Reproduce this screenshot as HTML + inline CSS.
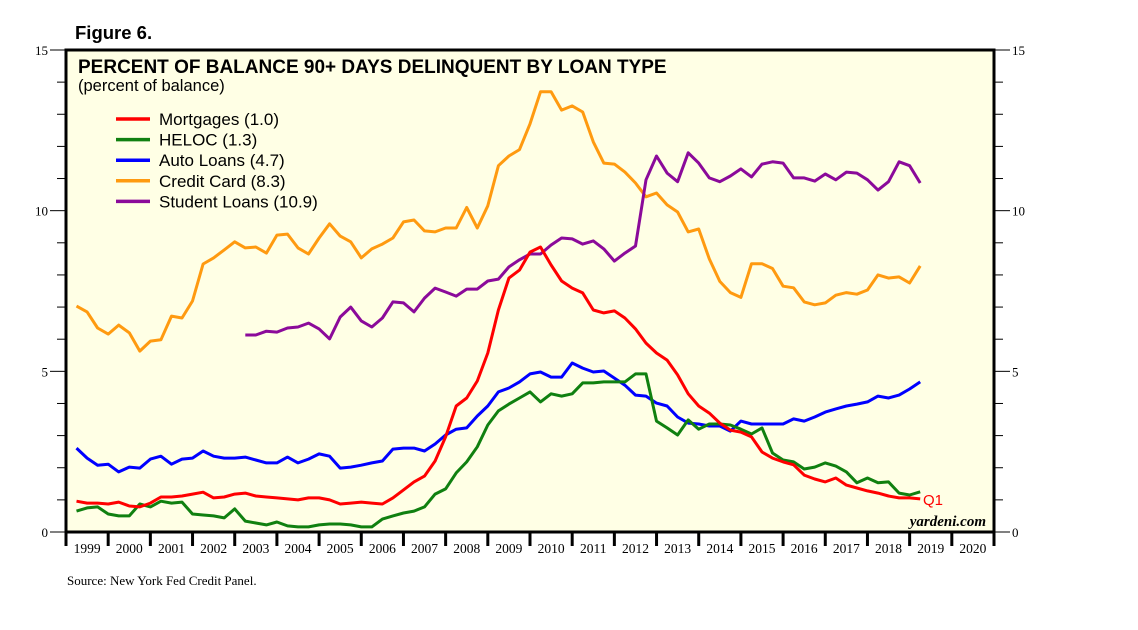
<!DOCTYPE html>
<html><head><meta charset="utf-8"><style>
body{margin:0;background:#fff;width:1138px;height:630px;overflow:hidden}
svg{display:block}
</style></head><body>
<svg id="chart" width="1138" height="630" xmlns="http://www.w3.org/2000/svg">
<text x="75" y="39" font-family="Liberation Sans, sans-serif" font-weight="bold" font-size="18.5">Figure 6.</text>
<rect x="66" y="50" width="928" height="482" fill="#ffffe5" stroke="#000" stroke-width="3"/>
<g id="axes"></g>
<g id="series"></g>
<text x="78" y="73" font-family="Liberation Sans, sans-serif" font-weight="bold" font-size="19">PERCENT OF BALANCE 90+ DAYS DELINQUENT BY LOAN TYPE</text>
<text x="78" y="91" font-family="Liberation Sans, sans-serif" font-size="16.5">(percent of balance)</text>
<g id="legend" font-family="Liberation Sans, sans-serif" font-size="17"></g>
<text x="923" y="505" font-family="Liberation Sans, sans-serif" font-size="15" fill="#ff0000">Q1</text>
<text x="986" y="526" text-anchor="end" font-family="Liberation Serif, serif" font-style="italic" font-weight="bold" font-size="15">yardeni.com</text>
<text x="67" y="585" font-family="Liberation Serif, serif" font-size="13">Source: New York Fed Credit Panel.</text>
</svg>
<script>
const years = ["1999","2000","2001","2002","2003","2004","2005","2006","2007","2008","2009","2010","2011","2012","2013","2014","2015","2016","2017","2018","2019","2020"];
const yTicks = [0,5,10,15];
const seriesNames = ["Mortgages (1.0)","HELOC (1.3)","Auto Loans (4.7)","Credit Card (8.3)","Student Loans (10.9)"];
const mortgages = [0.96,0.9,0.9,0.87,0.93,0.81,0.78,0.9,1.09,1.09,1.12,1.18,1.24,1.06,1.09,1.18,1.21,1.12,1.09,1.06,1.03,1.0,1.06,1.06,1.0,0.87,0.9,0.93,0.9,0.87,1.06,1.31,1.56,1.74,2.21,2.96,3.92,4.17,4.7,5.57,6.91,7.9,8.15,8.71,8.87,8.31,7.81,7.59,7.44,6.91,6.82,6.88,6.66,6.32,5.88,5.57,5.35,4.89,4.3,3.92,3.7,3.39,3.17,3.11,2.96,2.49,2.3,2.18,2.09,1.77,1.65,1.56,1.68,1.46,1.37,1.28,1.21,1.12,1.06,1.06,1.03];
const heloc = [0.65,0.75,0.78,0.56,0.5,0.5,0.87,0.78,0.96,0.9,0.93,0.56,0.53,0.5,0.44,0.72,0.34,0.28,0.22,0.31,0.19,0.16,0.16,0.22,0.25,0.25,0.22,0.16,0.16,0.4,0.5,0.59,0.65,0.78,1.18,1.34,1.84,2.18,2.65,3.33,3.77,3.98,4.17,4.36,4.05,4.3,4.23,4.3,4.64,4.64,4.67,4.67,4.67,4.92,4.92,3.45,3.24,3.02,3.49,3.2,3.36,3.36,3.33,3.2,3.05,3.24,2.46,2.24,2.18,1.96,2.02,2.15,2.05,1.87,1.53,1.68,1.53,1.56,1.21,1.15,1.25];
const auto = [2.61,2.3,2.08,2.11,1.87,2.02,1.99,2.27,2.36,2.11,2.27,2.3,2.52,2.36,2.3,2.3,2.33,2.24,2.15,2.15,2.33,2.15,2.27,2.43,2.36,1.99,2.02,2.08,2.15,2.21,2.58,2.61,2.61,2.52,2.74,3.02,3.2,3.24,3.61,3.92,4.36,4.48,4.67,4.92,4.98,4.82,4.82,5.26,5.1,4.98,5.01,4.79,4.57,4.26,4.23,4.01,3.92,3.58,3.39,3.36,3.3,3.3,3.14,3.45,3.36,3.36,3.36,3.36,3.52,3.45,3.58,3.73,3.83,3.92,3.98,4.05,4.23,4.17,4.26,4.45,4.67];
const creditCard = [7.03,6.85,6.35,6.16,6.44,6.2,5.63,5.94,5.98,6.72,6.66,7.19,8.34,8.53,8.78,9.03,8.84,8.87,8.68,9.24,9.27,8.84,8.65,9.15,9.59,9.21,9.03,8.53,8.81,8.96,9.15,9.65,9.71,9.37,9.34,9.46,9.46,10.1,9.46,10.15,11.4,11.7,11.9,12.7,13.7,13.7,13.13,13.26,13.07,12.14,11.48,11.45,11.2,10.86,10.43,10.55,10.18,9.96,9.34,9.43,8.5,7.8,7.45,7.3,8.35,8.35,8.2,7.65,7.6,7.16,7.07,7.13,7.37,7.45,7.4,7.53,8.0,7.9,7.94,7.75,8.28];
const student = [null,null,null,null,null,null,null,null,null,null,null,null,null,null,null,null,6.13,6.13,6.25,6.22,6.35,6.38,6.5,6.32,6.01,6.69,7.0,6.57,6.38,6.66,7.16,7.13,6.85,7.28,7.59,7.47,7.34,7.56,7.56,7.81,7.87,8.25,8.47,8.65,8.65,8.93,9.15,9.12,8.96,9.06,8.81,8.43,8.68,8.9,10.96,11.7,11.17,10.9,11.8,11.48,11.02,10.9,11.08,11.3,11.05,11.45,11.52,11.48,11.02,11.02,10.92,11.14,10.96,11.2,11.17,10.96,10.64,10.9,11.52,11.4,10.86];
const colors = ["#ff0000","#108010","#0000ff","#ff9a10","#8b0a9a"];
const NS="http://www.w3.org/2000/svg";
const X0=66,X1=994,Y0=532,Y1=50,YMAX=15;
const yearW=(X1-X0)/years.length;
function xScale(i){return X0+(i+1)/4*yearW;}
function yScale(v){return Y0-(v/YMAX)*(Y0-Y1);}
function mk(tag,attrs,parent){const e=document.createElementNS(NS,tag);for(const k in attrs)e.setAttribute(k,attrs[k]);parent.appendChild(e);return e;}
const axes=document.getElementById('axes');
for(let v=0;v<=YMAX;v++){
  const y=yScale(v);const major=yTicks.includes(v);
  const tl=mk('line',{x1:major?50:57,x2:X0,y1:y,y2:y,stroke:'#000','stroke-width':1},axes);
  
  
  const tr=mk('line',{x1:X1,x2:major?1010:1003,y1:y,y2:y,stroke:'#000','stroke-width':1},axes);
  
  
}
yTicks.forEach(v=>{
  const y=yScale(v);
  const l=mk('text',{x:48,y:y+5,'text-anchor':'end','font-family':'Liberation Serif, serif','font-size':13},axes);l.textContent=v;
  
  
  const r=mk('text',{x:1012,y:y+5,'font-family':'Liberation Serif, serif','font-size':13},axes);r.textContent=v;
  
  
});
years.forEach((yr,k)=>{
  const x=X0+k*yearW;
  const t=mk('line',{x1:x,x2:x,y1:Y0,y2:Y0+14,stroke:'#000','stroke-width':3},axes);
  
  
  const l=mk('text',{x:x+yearW/2,y:Y0+21,'text-anchor':'middle','font-family':'Liberation Serif, serif','font-size':13.5},axes);l.textContent=yr;
  
  
});
const endT=mk('line',{x1:X1,x2:X1,y1:Y0,y2:Y0+14,stroke:'#000','stroke-width':3},axes);


const sg=document.getElementById('series');
const data=[creditCard,student,auto,heloc,mortgages];
const cidx=[3,4,2,1,0];
const snames=['credit-card-line','student-loans-line','auto-loans-line','heloc-line','mortgages-line'];
data.forEach((arr,j)=>{
  let d='';let pen=false;
  arr.forEach((v,i)=>{if(v===null){pen=false;return;}d+=(pen?'L':'M')+xScale(i).toFixed(1)+','+yScale(v).toFixed(1);pen=true;});
  const p=mk('path',{d:d,fill:'none',stroke:colors[cidx[j]],'stroke-width':3,'stroke-linejoin':'round'},sg);
  
  
});
const lg=document.getElementById('legend');
seriesNames.forEach((n,i)=>{
  const y=119+i*20.6;
  const ln=mk('line',{x1:116,x2:150,y1:y,y2:y,stroke:colors[i],'stroke-width':3.5},lg);
  
  
  const t=mk('text',{x:159,y:y+6},lg);t.textContent=n;
  
  
});
</script>
</body></html>
